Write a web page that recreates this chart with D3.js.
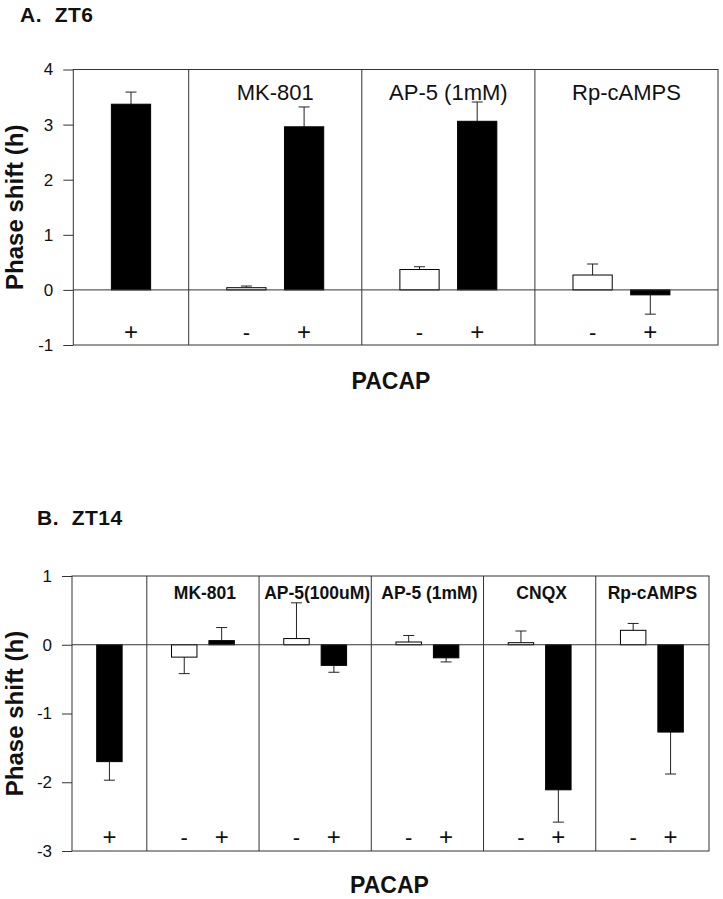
<!DOCTYPE html>
<html>
<head>
<meta charset="utf-8">
<script src="https://cdn.jsdelivr.net/npm/d3@7/dist/d3.min.js"></script>
<style>
  html, body { margin: 0; padding: 0; background: #fff; }
  svg { display: block; }
  text { font-family: "Liberation Sans", Arial, Helvetica, sans-serif; fill: #111; }
</style>
</head>
<body>
<svg id="chart" width="723" height="899"></svg>
<script>
// ---------- DATA ----------
// Panel A: ZT6
const groupsA = ["", "MK-801", "AP-5 (1mM)", "Rp-cAMPS"];
const treatmentsA = [["+"], ["-", "+"], ["-", "+"], ["-", "+"]];
const meansA = [[3.37], [0.04, 2.96], [0.37, 3.06], [0.27, -0.09]];
const errorsA = [[0.22], [0.03, 0.36], [0.05, 0.35], [0.20, 0.35]];
const ticksA = [-1, 0, 1, 2, 3, 4];

// Panel B: ZT14
const groupsB = ["", "MK-801", "AP-5(100uM)", "AP-5 (1mM)", "CNQX", "Rp-cAMPS"];
const treatmentsB = [["+"], ["-", "+"], ["-", "+"], ["-", "+"], ["-", "+"], ["-", "+"]];
const meansB = [[-1.70], [-0.18, 0.06], [0.09, -0.30], [0.04, -0.19], [0.03, -2.11], [0.21, -1.27]];
const errorsB = [[0.27], [0.24, 0.19], [0.52, 0.10], [0.095, 0.06], [0.17, 0.47], [0.10, 0.61]];
const ticksB = [-3, -2, -1, 0, 1];

const yTitle = "Phase shift (h)";
const xTitle = "PACAP";

// ---------- DRAWING ----------
const svg = d3.select("#chart");
const LINE = "#333";

function panel(cfg) {
  const g = svg.append("g");
  const nGroups = cfg.groups.length;
  const nSlots = 2 + (nGroups - 1) * 3;
  const x = d3.scaleLinear().domain([0, nSlots]).range([cfg.left, cfg.right]);
  const y = d3.scaleLinear().domain(cfg.domain).range([cfg.bottom, cfg.top]);
  const slotW = x(1) - x(0);
  const barW = slotW * 0.68;
  const frameRight = x(nSlots) + cfg.extraRight;

  const spans = cfg.groups.map((name, i) => {
    const start = i === 0 ? 0 : 2 + (i - 1) * 3;
    const end = i === 0 ? 2 : start + 3;
    return { name, i, start, end };
  });

  const bars = [];
  cfg.treatments.forEach((tr, gi) => {
    tr.forEach((t, j) => {
      const slot = gi === 0 ? 1 : spans[gi].start + 1 + j;
      bars.push({ slot, t, v: cfg.means[gi][j], e: cfg.errors[gi][j] });
    });
  });

  // axis
  const axis = d3.axisLeft(y).tickValues(cfg.ticks).tickSize(10).tickSizeOuter(0).tickPadding(10)
    .tickFormat(d => String(d));
  const ax = g.append("g").attr("transform", `translate(${cfg.left},0)`).call(axis);
  ax.select(".domain").remove();
  ax.selectAll(".tick line").attr("stroke", LINE);
  ax.selectAll(".tick text").style("font-size", "17px").style("font-family", '"Liberation Sans", Arial, sans-serif').attr("fill", "#111");

  // frame
  g.append("rect")
    .attr("x", cfg.left).attr("y", y(cfg.domain[1]))
    .attr("width", frameRight - cfg.left).attr("height", y(cfg.domain[0]) - y(cfg.domain[1]))
    .attr("fill", "none").attr("stroke", LINE).attr("stroke-width", 1);

  // dividers
  g.selectAll(".div").data(spans.slice(1)).join("line")
    .attr("x1", d => x(d.start)).attr("x2", d => x(d.start))
    .attr("y1", y(cfg.domain[1])).attr("y2", y(cfg.domain[0]))
    .attr("stroke", LINE).attr("stroke-width", 1);

  // error bars
  const tip = d => y(d.v >= 0 ? d.v + d.e : d.v - d.e);
  const eb = g.selectAll(".eb").data(bars).join("g");
  eb.append("line")
    .attr("x1", d => x(d.slot)).attr("x2", d => x(d.slot))
    .attr("y1", d => y(d.v)).attr("y2", tip)
    .attr("stroke", "#222").attr("stroke-width", 1);
  eb.append("line")
    .attr("x1", d => x(d.slot) - 5.5).attr("x2", d => x(d.slot) + 5.5)
    .attr("y1", tip).attr("y2", tip)
    .attr("stroke", "#222").attr("stroke-width", 1);

  // bars
  g.selectAll(".bar").data(bars).join("rect")
    .attr("x", d => x(d.slot) - barW / 2)
    .attr("width", barW)
    .attr("y", d => y(Math.max(0, d.v)))
    .attr("height", d => Math.abs(y(d.v) - y(0)))
    .attr("fill", d => d.t === "+" ? "#000" : "#fff")
    .attr("stroke", "#000").attr("stroke-width", 1);

  // zero line
  g.append("line")
    .attr("x1", cfg.left).attr("x2", frameRight)
    .attr("y1", y(0)).attr("y2", y(0))
    .attr("stroke", LINE).attr("stroke-width", 1);

  // group labels
  g.selectAll(".glab").data(spans.filter(d => d.name)).join("text")
    .attr("x", d => d.i === nGroups - 1 ? (x(d.start) + frameRight) / 2 : (x(d.start) + x(d.end)) / 2 + cfg.labelDx)
    .attr("y", y(cfg.domain[1]) + cfg.labelDy)
    .attr("text-anchor", "middle")
    .style("font-size", cfg.labelSize)
    .style("font-weight", cfg.labelWeight)
    .text(d => d.name);

  // +/- labels
  g.selectAll(".pm").data(bars).join("text")
    .attr("x", d => x(d.slot))
    .attr("y", y(cfg.domain[0]) - cfg.pmDy)
    .attr("text-anchor", "middle")
    .style("font-size", d => d.t === "+" ? "24px" : "22px")
    .text(d => d.t);

  // y title
  g.append("text")
    .attr("transform", `translate(23,${(y(cfg.domain[0]) + y(cfg.domain[1])) / 2}) rotate(-90)`)
    .attr("text-anchor", "middle")
    .style("font-size", "24px").style("font-weight", "bold")
    .text(yTitle);

  // x title
  g.append("text")
    .attr("x", cfg.xTitleX).attr("y", y(cfg.domain[0]) + cfg.xTitleDy)
    .attr("text-anchor", "middle")
    .style("font-size", "23px").style("font-weight", "bold")
    .text(xTitle);

  // panel title
  g.append("text")
    .attr("x", cfg.titleX).attr("y", cfg.titleY)
    .attr("xml:space", "preserve")
    .style("white-space", "pre")
    .style("font-size", "21px").style("font-weight", "bold").style("letter-spacing", "0.5px")
    .text(cfg.title);
}

panel({
  groups: groupsA, treatments: treatmentsA, means: meansA, errors: errorsA, ticks: ticksA,
  domain: [-1, 4], left: 73.3, right: 708, extraRight: 10, top: 69.5, bottom: 345,
  labelSize: "22px", labelWeight: "normal", labelDy: 30.5, labelDx: 0, pmDy: 5,
  xTitleX: 391, xTitleDy: 44, title: "A.  ZT6", titleX: 20, titleY: 22
});

panel({
  groups: groupsB, treatments: treatmentsB, means: meansB, errors: errorsB, ticks: ticksB,
  domain: [-3, 1], left: 72, right: 708, extraRight: 1, top: 576, bottom: 851,
  labelSize: "17.5px", labelWeight: "bold", labelDy: 23, labelDx: 2, pmDy: 6,
  xTitleX: 389.5, xTitleDy: 42, title: "B.  ZT14", titleX: 37, titleY: 525
});
</script>
</body>
</html>
